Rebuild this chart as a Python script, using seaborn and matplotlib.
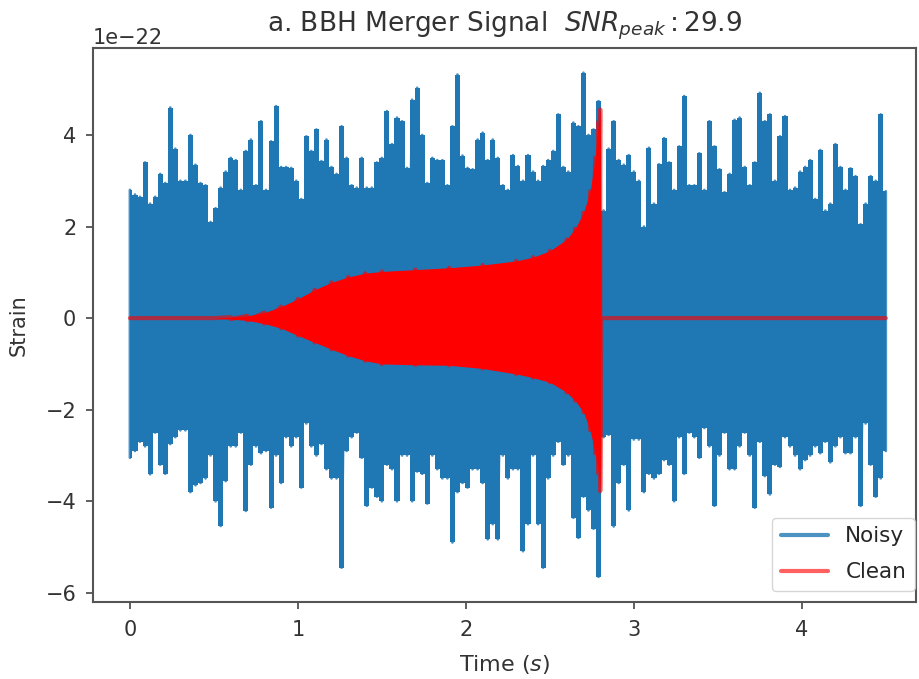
import numpy as np
import pandas as pd
import matplotlib
matplotlib.use("Agg")
import matplotlib.pyplot as plt
import seaborn as sns

# ---------------- data (strain in units of 1e-22) ----------------
SCALE = 1e-22
SAMPLE_DT = 0.03  # spacing (s) of the envelope samples

noisy_hi = [2.8, 2.7, 2.65, 3.4, 2.5, 2.65, 3.15, 2.95, 4.6, 3.7,
            3.0, 3.0, 4.0, 3.35, 2.95, 2.9, 2.1, 2.4, 2.85, 3.2,
            3.5, 3.45, 2.8, 3.65, 3.9, 2.9, 4.3, 2.8, 3.86, 4.63,
            3.3, 3.3, 3.28, 3.0, 2.6, 3.97, 3.65, 4.12, 3.43, 3.9,
            3.3, 3.15, 4.19, 3.5, 2.9, 2.85, 3.5, 2.85, 2.85, 3.4,
            3.5, 4.52, 3.8, 4.38, 4.3, 3.28, 4.77, 5.03, 4.0, 2.95,
            3.5, 3.45, 3.45, 2.9, 4.19, 5.32, 3.55, 3.28, 3.25, 3.9,
            4.05, 3.45, 3.9, 3.5, 2.9, 2.8, 3.56, 3.32, 3.0, 3.56,
            3.2, 3.0, 3.32, 3.45, 3.65, 4.45, 3.3, 3.2, 4.27, 4.19,
            5.36, 4.0, 4.12, 4.74, 2.35, 3.7, 4.3, 3.45, 3.35, 3.56,
            3.2, 3.0, 2.0, 3.72, 2.5, 3.36, 3.93, 3.4, 2.8, 3.75,
            4.85, 2.9, 2.9, 3.6, 2.8, 4.3, 3.75, 3.25, 2.75, 3.15,
            4.33, 4.38, 3.3, 2.9, 3.4, 4.92, 4.3, 4.45, 3.0, 3.97,
            4.41, 2.8, 2.85, 3.2, 3.3, 3.45, 2.6, 3.67, 2.35, 2.5,
            3.8, 3.3, 2.8, 3.27, 3.1, 2.05, 2.5, 3.1, 3.0, 4.45,
            2.77]

noisy_lo = [-3.05, -2.9, -2.7, -2.8, -3.41, -2.5, -3.2, -3.4, -2.75, -2.6,
            -2.45, -2.45, -3.8, -3.65, -3.6, -3.5, -3.0, -4.0, -4.54, -3.56,
            -2.8, -2.8, -2.5, -4.21, -3.2, -2.8, -2.95, -2.9, -4.14, -3.0,
            -3.6, -2.6, -2.8, -2.6, -3.7, -2.3, -2.8, -3.0, -2.75, -3.3,
            -3.5, -3.5, -5.45, -2.9, -2.6, -2.5, -3.05, -4.1, -3.7, -3.9,
            -4.0, -3.2, -3.3, -4.0, -3.0, -3.0, -4.0, -3.35, -3.4, -4.05,
            -3.0, -3.3, -3.5, -3.5, -4.9, -3.8, -3.6, -3.7, -3.3, -3.3,
            -3.6, -4.83, -4.5, -4.83, -3.0, -3.5, -3.3, -3.3, -5.09, -4.5,
            -3.0, -4.5, -5.45, -3.5, -3.0, -2.7, -3.2, -3.0, -4.36, -4.8,
            -3.9, -4.2, -4.6, -5.65, -2.6, -2.55, -4.55, -3.6, -3.2, -4.2,
            -2.65, -2.65, -3.8, -3.4, -3.5, -3.4, -3.1, -3.2, -4.0, -2.6,
            -3.4, -2.5, -2.6, -3.05, -2.4, -2.8, -4.1, -3.0, -2.5, -3.3,
            -3.3, -2.8, -2.5, -3.0, -4.14, -2.7, -3.45, -3.85, -3.2, -3.25,
            -2.6, -2.8, -3.0, -3.3, -3.1, -3.0, -2.8, -2.95, -2.7, -3.15,
            -2.8, -2.6, -2.95, -2.95, -2.6, -4.1, -2.3, -3.2, -3.9, -3.5,
            -2.9]

noisy_t = np.round(np.arange(len(noisy_hi)) * SAMPLE_DT, 3)

clean_t = [0.00, 0.50, 0.60, 0.70, 0.80, 0.90, 1.00, 1.10, 1.20, 1.30,
           1.40, 1.50, 1.70, 1.90, 2.10, 2.30, 2.40, 2.50, 2.60, 2.65,
           2.70, 2.74, 2.77, 2.79, 2.80, 2.805, 4.50]
clean_hi = [0, 0, 0.02, 0.05, 0.12, 0.25, 0.42, 0.62, 0.78, 0.90,
            0.98, 1.02, 1.06, 1.10, 1.16, 1.25, 1.33, 1.47, 1.72, 1.95,
            2.30, 2.77, 3.50, 4.30, 4.56, 0, 0]
clean_lo = [0, 0, -0.02, -0.05, -0.12, -0.22, -0.38, -0.53, -0.68, -0.82,
            -0.93, -1.00, -1.02, -1.03, -1.10, -1.22, -1.30, -1.40, -1.62, -1.80,
            -2.05, -2.45, -2.95, -3.40, -3.78, 0, 0]

title_text = r"a. BBH Merger Signal  $SNR_{peak}:29.9$"

# ---------------- figure ----------------
sns.set_style("ticks")
plt.rcParams["font.family"] = ["DejaVu Sans"]

fig = plt.figure(figsize=(9.2, 6.79), dpi=100)
ax = fig.add_axes([93 / 920, 1 - 602 / 679, (916 - 93) / 920, (602 - 48) / 679])

hi = np.asarray(noisy_hi) * SCALE
lo = np.asarray(noisy_lo) * SCALE
ax.fill_between(noisy_t, lo, hi, step="mid", color="#1f77b4", lw=0, zorder=1)
df_noisy = pd.DataFrame({
    "Time": np.repeat(noisy_t, 2),
    "Strain": np.column_stack([hi, lo]).ravel(),
})
sns.lineplot(data=df_noisy, x="Time", y="Strain", sort=False, estimator=None,
             color="#1f77b4", lw=2.0, alpha=0.8, label="Noisy", ax=ax, zorder=2)

chi = np.asarray(clean_hi) * SCALE
clo = np.asarray(clean_lo) * SCALE
ax.fill_between(clean_t, clo, chi, color="red", lw=0, zorder=3)
df_clean = pd.DataFrame({
    "Time": np.repeat(clean_t, 2),
    "Strain": np.column_stack([chi, clo]).ravel(),
})
sns.lineplot(data=df_clean, x="Time", y="Strain", sort=False, estimator=None,
             color="red", lw=3, alpha=0.62, label="Clean", ax=ax, zorder=4)

ax.set_xlim(-0.22, 4.68)
ax.set_ylim(-6.2e-22, 5.9e-22)
ax.set_xticks([0, 1, 2, 3, 4])
ax.set_yticks(np.array([-6, -4, -2, 0, 2, 4]) * SCALE)
ax.tick_params(labelsize=15, length=5, width=1.2, colors="#444444",
               labelcolor="#333333")
ax.tick_params(axis="y", pad=7)
ax.tick_params(axis="x", pad=8)
ax.yaxis.get_offset_text().set_fontsize(15)
ax.yaxis.get_offset_text().set_color("#333333")
for s in ax.spines.values():
    s.set_linewidth(1.5)
    s.set_color("#555555")

ax.set_xlabel("Time ($s$)", fontsize=16, color="#333333", labelpad=9)
ax.set_ylabel("Strain", fontsize=15, color="#333333", labelpad=12)
ax.set_title(title_text, fontsize=19, color="#333333", pad=12)

leg = ax.legend(loc="lower right", bbox_to_anchor=(0.9985, 0.02),
                fontsize=15.5, frameon=True, handlelength=2.2,
                labelspacing=0.75, borderaxespad=0.0)
leg.get_frame().set_edgecolor("#cccccc")
for line in leg.get_lines():
    line.set_linewidth(3)

fig.savefig("out.png", dpi=100)
